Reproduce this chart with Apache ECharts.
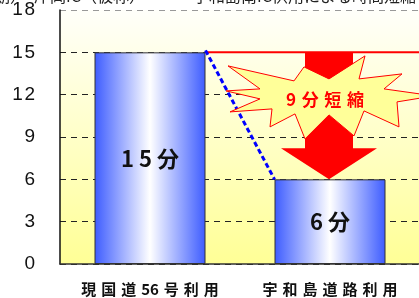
<!DOCTYPE html>
<html>
<head>
<meta charset="utf-8">
<script src="https://cdn.jsdelivr.net/npm/echarts@6/dist/echarts.min.js"></script>
<style>
  html, body { margin: 0; padding: 0; background: #fff; }
  #main { width: 419px; height: 298px; }
</style>
</head>
<body>
<div id="main"></div>
<script>
// 所要時間（分）
var categories = ['現国道56号利用', '宇和島道路利用'];
var minutes = [15, 6];
var savedLabel = '9分短縮';
var titleLeft = '期）　岸岡IC（仮称）';
var titleRight = '宇和島南IC供用による時間短縮';

var BAR_W = 111;
var chart = echarts.init(document.getElementById('main'));

function spaced(s, sp) {
  // 数字の並びはくっつけたまま、文字の間にすき間を入れる
  var out = '';
  for (var i = 0; i < s.length; i++) {
    out += s[i];
    if (i < s.length - 1 && !(/\d/.test(s[i]) && /\d/.test(s[i + 1]))) out += sp;
  }
  return out;
}

var blueGrad = new echarts.graphic.LinearGradient(0, 0, 1, 0, [
  { offset: 0, color: '#3d5cff' },
  { offset: 0.5, color: '#ffffff' },
  { offset: 1, color: '#3d5cff' }
]);

chart.setOption({
  animation: false,
  backgroundColor: '#ffffff',
  grid: {
    left: 60, right: -1, top: 10, bottom: 34,
    outerBoundsMode: 'none',
    show: true,
    borderWidth: 0,
    backgroundColor: new echarts.graphic.LinearGradient(0, 0, 0, 1, [
      { offset: 0, color: '#fffffa' },
      { offset: 1, color: '#ffff96' }
    ])
  },
  xAxis: {
    type: 'category',
    data: categories,
    axisLine: { lineStyle: { color: '#333', width: 1.5 } },
    axisTick: { inside: true, length: 5, lineStyle: { color: '#333' } },
    axisLabel: {
      margin: 18,
      fontSize: 15,
      fontWeight: 'bold',
      color: '#111',
      fontFamily: 'Noto Sans CJK JP',
      formatter: function (v) { return spaced(v, '\u2004'); }
    }
  },
  yAxis: {
    type: 'value',
    min: 0, max: 18, interval: 3,
    axisLine: { show: true, lineStyle: { color: '#111', width: 1.5 } },
    axisTick: { show: false },
    axisLabel: {
      margin: 25,
      fontSize: 19,
      color: '#111',
      fontFamily: 'Liberation Sans',
      formatter: function (v) { return String(v).split('').join('\u200A'); }
    },
    splitLine: {
      lineStyle: {
        type: [6, 5],
        width: 1,
        color: ['#222', '#222', '#222', '#222', '#222', '#222', '#999']
      }
    }
  },
  series: [{
    type: 'bar',
    data: minutes,
    barWidth: BAR_W,
    itemStyle: { color: blueGrad, borderColor: '#333', borderWidth: 1 },
    label: {
      show: true,
      position: 'inside',
      fontSize: 22,
      fontWeight: 'bold',
      color: '#111',
      fontFamily: 'Noto Sans CJK JP',
      formatter: function (p) { return spaced(p.value + '分', ' ').replace(/(\d)(\d)/, '$1 $2'); }
    },
    z: 2
  }]
});

// 注記（赤線・青破線・矢印・吹き出し）をデータ座標から配置
var px = function (i, v) { return chart.convertToPixel({ xAxisIndex: 0, yAxisIndex: 0 }, [i, v]); };
var a = px(0, minutes[0]);
var b = px(1, minutes[1]);
var b15 = px(1, minutes[0]);
var bottom = px(0, 0);
var top = px(0, 18);
var band = b[0] - a[0];
var rightX = b[0] + band / 2;
var cx = b[0] - 1;
var starC = px(1, 11.7);
starC[0] = cx;

var starPts = [
  [224, 92], [258, 90], [226, 67], [292, 82], [302, 68], [327, 80], [363, 57],
  [357, 80], [400, 75], [382, 90], [432, 97], [395, 103], [397, 128], [362, 112],
  [352, 137], [327, 116], [303, 140], [293, 115], [268, 128], [270, 110],
  [228, 113], [258, 100]
].map(function (p) { return [p[0] - 327 + starC[0], p[1] - 100 + starC[1]]; });

var headBase = b[1] - 31;
var arrow = [
  [cx - 24, a[1]], [cx + 24, a[1]], [cx + 24, headBase], [cx + 48, headBase],
  [cx, b[1]], [cx - 48, headBase], [cx - 24, headBase]
];

chart.setOption({
  graphic: [
    { type: 'text', left: -6, top: -12, style: { text: titleLeft, fontSize: 16, fill: '#222', fontFamily: 'Noto Sans CJK JP' }, z: 10 },
    { type: 'text', left: 193, top: -12, style: { text: titleRight, fontSize: 16, fill: '#222', fontFamily: 'Noto Sans CJK JP' }, z: 10 },
    { type: 'line', shape: { x1: rightX - 2, y1: top[1], x2: rightX - 2, y2: bottom[1] }, style: { stroke: '#999', lineWidth: 1 }, z: 5 },
    { type: 'polygon', shape: { points: arrow }, style: { fill: '#ff0000' }, z: 6 },
    { type: 'line', shape: { x1: a[0] + BAR_W / 2, y1: a[1], x2: rightX, y2: b15[1] }, style: { stroke: '#ff0000', lineWidth: 2 }, z: 7 },
    { type: 'line', shape: { x1: a[0] + BAR_W / 2, y1: a[1] - 2, x2: b[0] - BAR_W / 2, y2: b[1] }, style: { stroke: '#0000ff', lineWidth: 3, lineDash: [5, 3] }, z: 7 },
    { type: 'polygon', shape: { points: starPts }, style: { fill: '#ffff99', stroke: '#ff0000', lineWidth: 1 }, z: 8 },
    {
      type: 'text', x: starC[0] - 4, y: starC[1] + 1,
      style: {
        text: spaced(savedLabel, '\u2004'), fontSize: 17, fontWeight: 'bold', fill: '#ff0000',
        fontFamily: 'Noto Sans CJK JP', align: 'center', verticalAlign: 'middle'
      }, z: 9
    }
  ]
});
</script>
</body>
</html>
